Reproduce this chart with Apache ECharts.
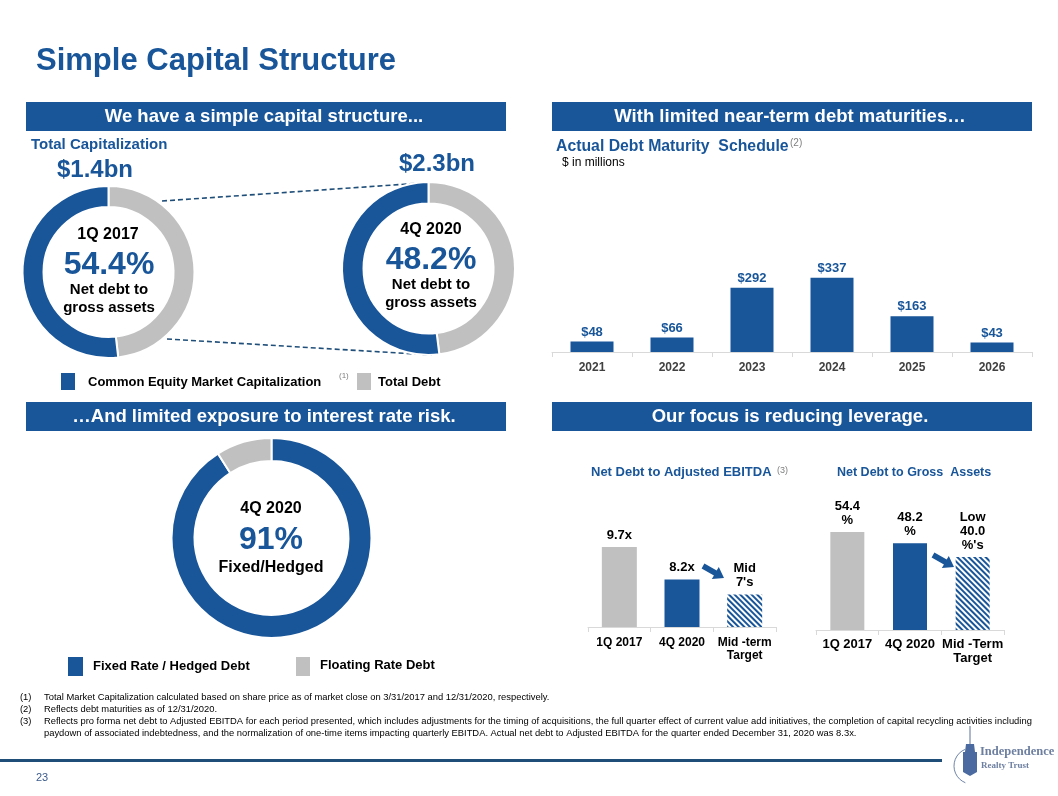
<!DOCTYPE html>
<html><head><meta charset="utf-8">
<script src="https://cdn.jsdelivr.net/npm/echarts@6/dist/echarts.min.js"></script>
<style>html,body{margin:0;padding:0;background:#fff}#c{width:1058px;height:796px}</style>
</head><body><div id="c"></div>
<script>
// ---- data ----
const maturityYears = ['2021', '2022', '2023', '2024', '2025', '2026'];
const maturityValues = [48, 66, 292, 337, 163, 43];
const ebitdaCategories = ['1Q 2017', '4Q 2020', 'Mid -term\nTarget'];
const ebitdaValues = [9.7, 8.2, 7.5];
const ebitdaLabels = ['9.7x', '8.2x', "Mid\n7's"];
const grossCategories = ['1Q 2017', '4Q 2020', 'Mid -Term\nTarget'];
const grossValues = [54.4, 48.2, 40.5];
const grossLabels = ['54.4\n%', '48.2\n%', "Low\n40.0\n%'s"];
const capNames = ['Total Debt', 'Common Equity Market Capitalization'];
const cap1Q2017 = [48.2, 51.8];
const cap4Q2020 = [48.0, 52.0];
const rateNames = ['Fixed Rate / Hedged Debt', 'Floating Rate Debt'];
const rateValues = [91, 9];

// ---- styles ----
const BLUE = '#185599';
const GRAY = '#c0c0c0';
const FONT = '"Liberation Sans", Arial, sans-serif';
const hatch = {
  symbol: 'rect', symbolSize: 1, dashArrayX: [1, 0], dashArrayY: [2, 2],
  rotation: Math.PI / 4, color: BLUE, backgroundColor: '#fff'
};
const barColors = [GRAY, BLUE, null];

function txt(x, y, text, size, opt) {
  opt = opt || {};
  return {
    type: 'text', x: x, y: y, silent: true,
    style: {
      text: text, fontFamily: opt.family || FONT, fontSize: size,
      fontWeight: opt.weight || 'bold', fill: opt.color || '#000',
      align: opt.align || 'left', verticalAlign: 'middle',
      lineHeight: opt.lineHeight
    }
  };
}
function rect(x, y, w, h, color) {
  return { type: 'rect', silent: true, shape: { x: x, y: y, width: w, height: h }, style: { fill: color } };
}
function arrow(x0, y0, x1, y1) {
  const dx = x1 - x0, dy = y1 - y0, L = Math.hypot(dx, dy);
  const ux = dx / L, uy = dy / L, nx = -uy, ny = ux;
  const hw = 2.8, hh = 7, hl = 10;
  const bx = x1 - ux * hl, by = y1 - uy * hl;
  const pts = [
    [x0 + nx * hw, y0 + ny * hw], [bx + nx * hw, by + ny * hw], [bx + nx * hh, by + ny * hh],
    [x1, y1], [bx - nx * hh, by - ny * hh], [bx - nx * hw, by - ny * hw], [x0 - nx * hw, y0 - ny * hw]
  ];
  return { type: 'polygon', silent: true, shape: { points: pts }, style: { fill: BLUE } };
}
function dashed(x1, y1, x2, y2) {
  return { type: 'line', silent: true, shape: { x1: x1, y1: y1, x2: x2, y2: y2 },
    style: { stroke: '#1f4e79', lineWidth: 1.6, lineDash: [5, 3] } };
}

const headers = [
  [26, 102, 'We have a simple capital structure...'],
  [552, 102, 'With limited near-term debt maturities…'],
  [26, 402, '…And limited exposure to interest rate risk.'],
  [552, 402, 'Our focus is reducing leverage.']
];

const graphics = [];
graphics.push(txt(36, 61, 'Simple Capital Structure', 31, { color: BLUE }));
headers.forEach(function (h) {
  graphics.push(rect(h[0], h[1], 480, 29, BLUE));
  graphics.push(txt(h[0] + 238, h[1] + 15, h[2], 18.5, { color: '#fff', align: 'center' }));
});
// top-left texts
graphics.push(txt(31, 145, 'Total Capitalization', 15, { color: BLUE }));
graphics.push(txt(95, 170, '$1.4bn', 24, { color: BLUE, align: 'center' }));
graphics.push(txt(437, 164, '$2.3bn', 24, { color: BLUE, align: 'center' }));
graphics.push(dashed(162, 201, 422, 183));
graphics.push(dashed(167, 339, 432, 355));
graphics.push(txt(108, 235, '1Q 2017', 16, { align: 'center' }));
graphics.push(txt(109, 265, '54.4%', 32, { align: 'center', color: BLUE }));
graphics.push(txt(109, 290, 'Net debt to', 15, { align: 'center' }));
graphics.push(txt(109, 308, 'gross assets', 15, { align: 'center' }));
graphics.push(txt(431, 230, '4Q 2020', 16, { align: 'center' }));
graphics.push(txt(431, 260, '48.2%', 32, { align: 'center', color: BLUE }));
graphics.push(txt(431, 285, 'Net debt to', 15, { align: 'center' }));
graphics.push(txt(431, 303, 'gross assets', 15, { align: 'center' }));
// legend top-left
graphics.push(rect(61, 373, 14, 17, BLUE));
graphics.push(txt(88, 382, capNames[1], 13));
graphics.push(txt(339, 376, '(1)', 8, { weight: 'normal', color: '#7f7f7f' }));
graphics.push(rect(357, 373, 14, 17, GRAY));
graphics.push(txt(378, 382, capNames[0], 13));
// top-right texts
graphics.push(txt(556, 147, 'Actual Debt Maturity  Schedule', 15.8, { color: BLUE }));
graphics.push(txt(790, 143, '(2)', 10, { weight: 'normal', color: '#7f7f7f' }));
graphics.push(txt(562, 163, '$ in millions', 12, { weight: 'normal' }));
// bottom-left donut texts
graphics.push(txt(271, 509, '4Q 2020', 16, { align: 'center' }));
graphics.push(txt(271, 540, '91%', 32, { align: 'center', color: BLUE }));
graphics.push(txt(271, 568, 'Fixed/Hedged', 16, { align: 'center' }));
graphics.push(rect(68, 657, 15, 19, BLUE));
graphics.push(txt(93, 666, rateNames[0], 13));
graphics.push(rect(296, 657, 14, 19, GRAY));
graphics.push(txt(320, 665, rateNames[1], 13));
// bottom-right titles
graphics.push(txt(591, 472, 'Net Debt to Adjusted EBITDA', 13, { color: BLUE }));
graphics.push(txt(777, 471, '(3)', 9, { weight: 'normal', color: '#7f7f7f' }));
graphics.push(txt(837, 473, 'Net Debt to Gross  Assets', 12.5, { color: BLUE }));
graphics.push(arrow(703, 566, 724, 578));
graphics.push(arrow(933, 555, 954, 567));
// footnotes
const notes = [
  ['(1)', 'Total Market Capitalization calculated based on share price as of market close on 3/31/2017 and 12/31/2020, respectively.'],
  ['(2)', 'Reflects debt maturities as of 12/31/2020.'],
  ['(3)', 'Reflects pro forma net debt to Adjusted EBITDA for each period presented, which includes adjustments for the timing of acquisitions, the full quarter effect of current value add initiatives, the completion of capital recycling activities including'],
  ['', 'paydown of associated indebtedness, and the normalization of one-time items impacting quarterly EBITDA. Actual net debt to Adjusted EBITDA for the quarter ended December 31, 2020 was 8.3x.']
];
notes.forEach(function (n, i) {
  const y = 697 + i * 12;
  if (n[0]) graphics.push(txt(20, y, n[0], 9.4, { weight: 'normal' }));
  graphics.push(txt(44, y, n[1], 9.4, { weight: 'normal' }));
});
// footer
graphics.push(rect(0, 759, 942, 3, '#1f4e79'));
graphics.push(txt(36, 778, '23', 11, { weight: 'normal', color: '#3b5b8c' }));
// logo
graphics.push({ type: 'line', silent: true, shape: { x1: 970, y1: 726, x2: 970, y2: 744 }, style: { stroke: '#5a7199', lineWidth: 1 } });
graphics.push({ type: 'polygon', silent: true, shape: { points: [[966, 744], [974, 744], [975, 752], [977, 752], [977, 772], [970, 776], [963, 772], [963, 752], [965, 752]] }, style: { fill: '#4a6aa0' } });
graphics.push({ type: 'arc', silent: true, shape: { cx: 972, cy: 766, r: 18, startAngle: Math.PI * 0.62, endAngle: Math.PI * 1.38 }, style: { stroke: '#6f84a8', lineWidth: 1, fill: null } });
graphics.push(txt(980, 752, 'Independence', 12.5, { family: '"Liberation Serif", "DejaVu Serif", serif', color: '#6d7fa0' }));
graphics.push(txt(981, 766, 'Realty Trust', 9, { family: '"Liberation Serif", "DejaVu Serif", serif', color: '#6d7fa0' }));

function pieData(names, values, colors) {
  return values.map(function (v, i) { return { name: names[i], value: v, itemStyle: { color: colors[i] } }; });
}
function pie(center, radius, data) {
  return {
    type: 'pie', center: center, radius: radius, startAngle: 90, clockwise: true,
    silent: true, label: { show: false }, labelLine: { show: false }, animation: false,
    itemStyle: { borderColor: '#fff', borderWidth: 2 }, data: data
  };
}
function catAxis(gridIndex, data, size, color, margin, lh) {
  return {
    type: 'category', gridIndex: gridIndex, data: data,
    axisLine: { lineStyle: { color: '#d9d9d9', width: 1 } },
    axisTick: { show: true, length: 5, lineStyle: { color: '#d9d9d9' } },
    axisLabel: { fontFamily: FONT, fontSize: size, fontWeight: 'bold', color: color, margin: margin, lineHeight: lh, interval: 0 }
  };
}
function valAxis(gridIndex, min, max) {
  return { type: 'value', gridIndex: gridIndex, min: min, max: max, show: false, splitLine: { show: false } };
}
function styledBars(values) {
  return values.map(function (v, i) {
    if (barColors[i]) return { value: v, itemStyle: { color: barColors[i] } };
    return { value: v, itemStyle: { color: '#fff', decal: hatch } };
  });
}

const option = {
  animation: false,
  backgroundColor: '#fff',
  grid: [
    { left: 552, top: 176, width: 480, height: 176 },
    { left: 588, top: 529.8, width: 188, height: 97.2 },
    { left: 816, top: 522, width: 188, height: 108 }
  ],
  xAxis: [
    catAxis(0, maturityYears, 12, '#404040', 9, 14),
    catAxis(1, ebitdaCategories, 12, '#000', 9, 13),
    catAxis(2, grossCategories, 13, '#000', 7, 14)
  ],
  yAxis: [valAxis(0, 0, 800), valAxis(1, 6, 10.5), valAxis(2, 0, 60)],
  series: [
    pie([108.5, 272], [65, 86], pieData(capNames, cap1Q2017, [GRAY, BLUE])),
    pie([428.5, 268.5], [65, 86.5], pieData(capNames, cap4Q2020, [GRAY, BLUE])),
    pie([271.5, 538], [77, 100], pieData(rateNames, rateValues, [BLUE, GRAY])),
    {
      type: 'bar', xAxisIndex: 0, yAxisIndex: 0, data: maturityValues, barWidth: 43, silent: true,
      itemStyle: { color: BLUE },
      label: { show: true, position: 'top', distance: 3, formatter: function (p) { return '$' + p.value; },
        fontFamily: FONT, fontSize: 13, fontWeight: 'bold', color: BLUE }
    },
    {
      type: 'bar', xAxisIndex: 1, yAxisIndex: 1, data: styledBars(ebitdaValues), barWidth: 35, silent: true,
      label: { show: true, position: 'top', distance: 5, formatter: function (p) { return ebitdaLabels[p.dataIndex]; },
        fontFamily: FONT, fontSize: 13, fontWeight: 'bold', color: '#000', lineHeight: 14 }
    },
    {
      type: 'bar', xAxisIndex: 2, yAxisIndex: 2, data: styledBars(grossValues), barWidth: 34, silent: true,
      label: { show: true, position: 'top', distance: 5, formatter: function (p) { return grossLabels[p.dataIndex]; },
        fontFamily: FONT, fontSize: 13, fontWeight: 'bold', color: '#000', lineHeight: 14 }
    }
  ],
  graphic: { elements: graphics }
};
const chart = echarts.init(document.getElementById('c'), null, { renderer: 'canvas' });
chart.setOption(option);
</script>
</body></html>
